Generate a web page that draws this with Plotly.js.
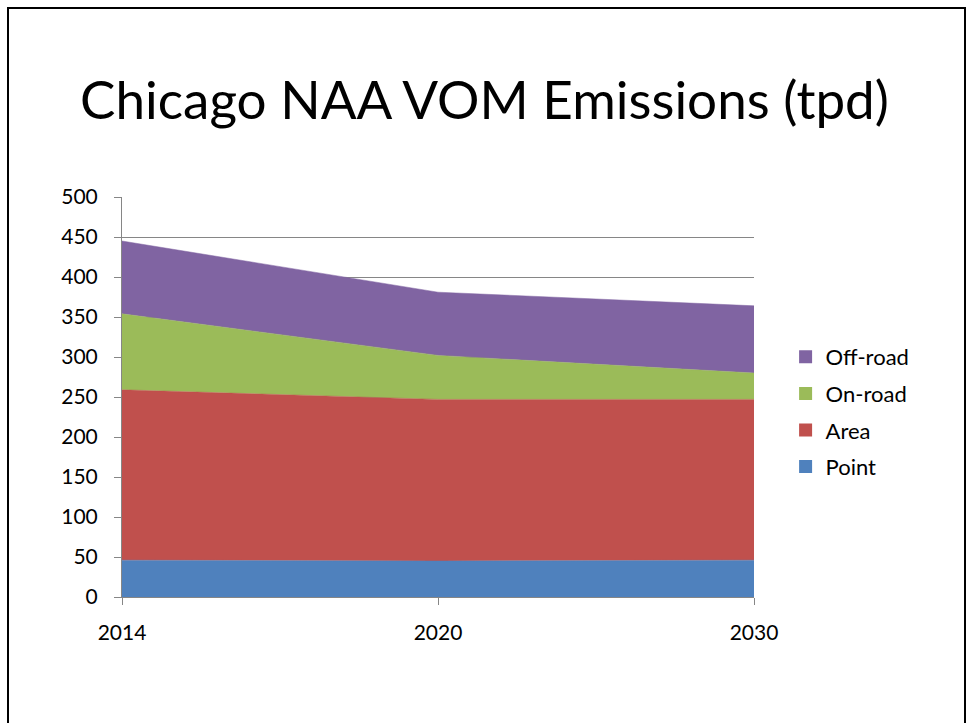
<!DOCTYPE html>
<html>
<head>
<meta charset="utf-8">
<script src="https://cdn.plot.ly/plotly-3.0.1.min.js"></script>
<style>
  html, body { margin: 0; padding: 0; background: #fff; }
  #chart { width: 969px; height: 723px; position: absolute; left: 0; top: 0; }
  #frame { position: absolute; left: 7px; top: 7px; width: 955px; height: 760px; border: 2px solid #000; pointer-events: none; }
</style>
</head>
<body>
<div id="chart"></div>
<div id="frame"></div>
<script>
const years = ["2014", "2020", "2030"];
const pointVals = [46, 45, 46];
const areaVals = [213, 202, 201];
const onroadVals = [95, 55, 33];
const offroadVals = [91, 79, 84];

const seriesNames = ["Point", "Area", "On-road", "Off-road"];
const seriesColors = ["#4F81BD", "#C0504D", "#9BBB59", "#8064A2"];
const seriesData = [pointVals, areaVals, onroadVals, offroadVals];

const FONT = "Lato, 'Open Sans', sans-serif";

const areaTraces = seriesNames.map((name, i) => ({
  type: "scatter",
  mode: "lines",
  name: name,
  x: years,
  y: seriesData[i],
  stackgroup: "one",
  showlegend: false,
  line: { color: seriesColors[i], width: 0.5 },
  fillcolor: seriesColors[i],
  hoverinfo: "x+y+name"
}));

// legend entries (square swatches), listed top to bottom
const legendOrder = [3, 2, 1, 0];
const legendTraces = legendOrder.map(i => ({
  type: "scatter",
  mode: "markers",
  name: seriesNames[i],
  x: [null],
  y: [null],
  legendgroup: seriesNames[i],
  marker: { symbol: "square", size: 13, color: seriesColors[i] },
  hoverinfo: "skip"
}));

const layout = {
  width: 969,
  height: 723,
  paper_bgcolor: "#fff",
  plot_bgcolor: "#fff",
  margin: { l: 122, r: 215, t: 197, b: 126, pad: 0 },
  title: {
    text: "Chicago NAA VOM Emissions (tpd)",
    font: { family: FONT, size: 53, color: "#000" },
    x: 0.5, xanchor: "center", xref: "container",
    y: 1 - 100 / 723, yanchor: "middle", yref: "container"
  },
  xaxis: {
    type: "category",
    range: [0, 2],
    showgrid: false,
    showline: true,
    linecolor: "#868686",
    linewidth: 1,
    ticks: "outside",
    ticklen: 7,
    tickcolor: "#868686",
    tickfont: { family: FONT, size: 21, color: "#000" },
    ticklabelstandoff: 10,
    zeroline: false
  },
  yaxis: {
    range: [0, 500],
    dtick: 50,
    showgrid: true,
    gridcolor: "#868686",
    gridwidth: 1,
    showline: true,
    linecolor: "#868686",
    ticks: "outside",
    ticklen: 7,
    tickcolor: "#868686",
    tickfont: { family: FONT, size: 21, color: "#000" },
    ticklabelstandoff: 12,
    zeroline: false
  },
  showlegend: true,
  legend: {
    x: 1.05, xanchor: "left",
    y: 0.4625, yanchor: "middle",
    traceorder: "grouped",
    tracegroupgap: 5,
    font: { family: FONT, size: 22, color: "#000" },
    itemwidth: 30,
    bgcolor: "rgba(0,0,0,0)"
  },
  hovermode: "x"
};

Plotly.newPlot("chart", areaTraces.concat(legendTraces), layout, { displayModeBar: false });
</script>
</body>
</html>
